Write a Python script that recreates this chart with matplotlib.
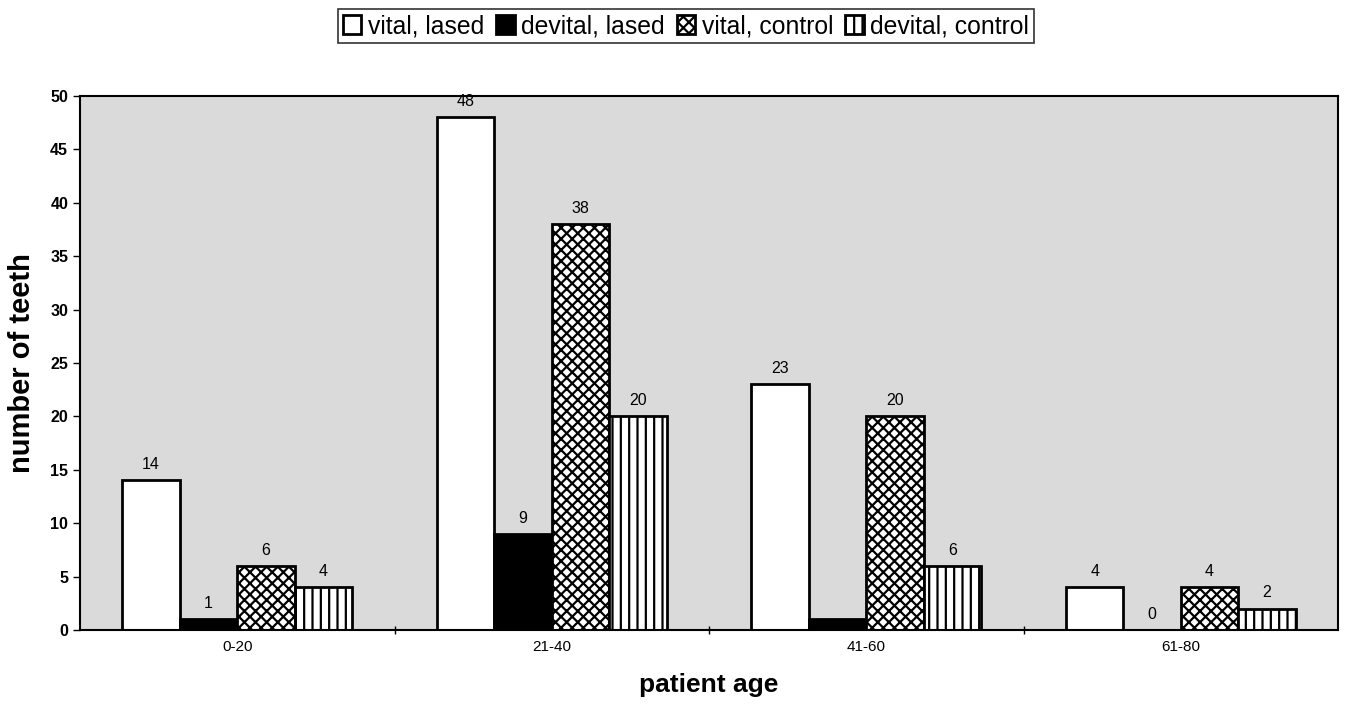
import numpy as np
import matplotlib
matplotlib.use("Agg")
import matplotlib.pyplot as plt

plt.rcParams['font.family'] = ['Liberation Sans', 'DejaVu Sans']
plt.rcParams['hatch.linewidth'] = 1.6

# %%
age_groups = ['0-20', '21-40', '41-60', '61-80']
series = ['vital, lased', 'devital, lased', 'vital, control', 'devital, control']
values = [
    [14, 48, 23, 4],   # vital, lased
    [1, 9, 1, 0],      # devital, lased
    [6, 38, 20, 4],    # vital, control
    [4, 20, 6, 2],     # devital, control
]
# label for the 41-60 devital, lased bar is not visible in the original
labels = [
    ['14', '48', '23', '4'],
    ['1', '9', '', '0'],
    ['6', '38', '20', '4'],
    ['4', '20', '6', '2'],
]

colors = ['white', 'black', 'white', 'white']
hatches = [None, None, 'xxx', '||']

# %%
fig = plt.figure(figsize=(13.45, 7.05), dpi=100)
ax = fig.add_axes([0.0595, 0.1064, 0.9353, 0.7574])
ax.set_facecolor('#dadada')

x = np.arange(len(age_groups))
w = 0.1825
for i, s in enumerate(series):
    pos = x + (i - 1.5) * w
    bars = ax.bar(pos, values[i], width=w, color=colors[i], edgecolor='black',
                  linewidth=2, hatch=hatches[i], label=s, zorder=2)
    for b, lab in zip(bars, labels[i]):
        if lab:
            ax.annotate(lab, (b.get_x() + b.get_width() / 2, b.get_height()),
                        xytext=(0, 6), textcoords='offset points',
                        ha='center', va='bottom', fontsize=11.5, zorder=3)

ax.set_xlim(-0.5, len(age_groups) - 0.5)
ax.set_ylim(0, 50)
ax.set_yticks(np.arange(0, 51, 5))
ax.set_xticks(x)
ax.set_xticklabels(age_groups, fontsize=11)
ax.set_xticks(np.arange(0.5, len(age_groups) - 0.5, 1), minor=True)
ax.tick_params(axis='x', which='major', length=0, pad=7)
ax.tick_params(axis='x', which='minor', length=6, direction='inout', width=1)
ax.tick_params(axis='y', length=5, width=1, direction='out', labelsize=11.5)
for t in ax.get_yticklabels():
    t.set_fontweight('bold')

for sp in ax.spines.values():
    sp.set_linewidth(1.5)
    sp.set_color('black')

ax.set_ylabel('number of teeth', fontsize=21, fontweight='bold', labelpad=10)
ax.set_xlabel('patient age', fontsize=19, fontweight='bold', labelpad=14)

leg = fig.legend(loc='center', bbox_to_anchor=(0.51, 0.963), ncol=4,
                 fontsize=17.8, frameon=True, fancybox=False, edgecolor='black',
                 handlelength=0.75, handleheight=0.75, handletextpad=0.25,
                 columnspacing=0.5, borderpad=0.2, borderaxespad=0)
leg.get_frame().set_linewidth(1.2)

fig.savefig('out.png', dpi=100)
